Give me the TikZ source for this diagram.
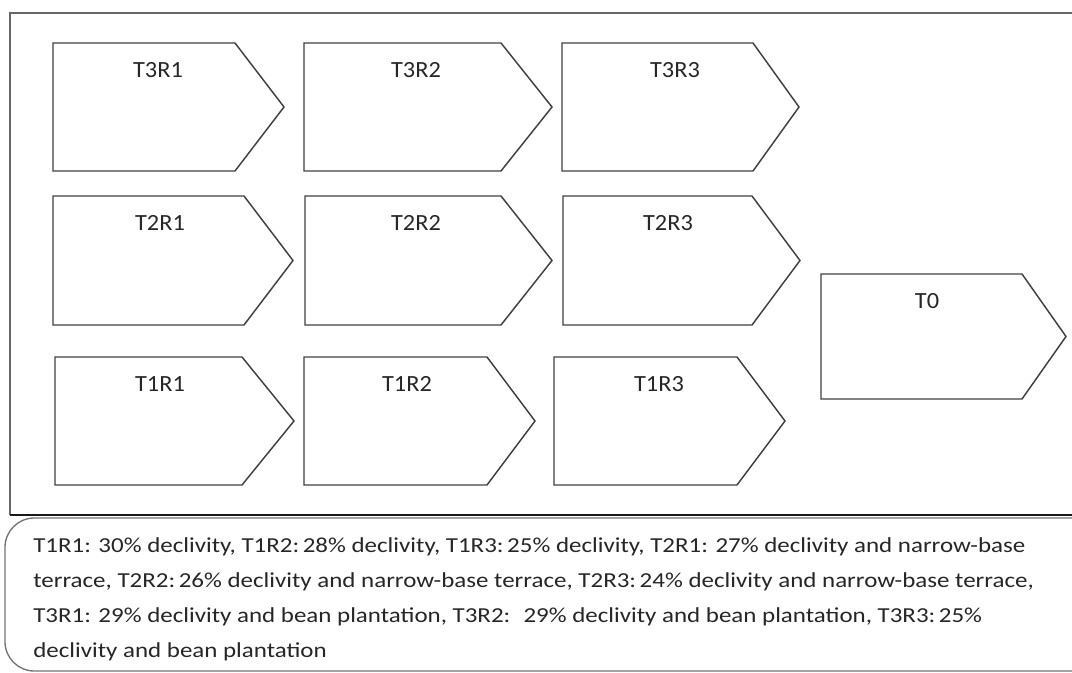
\documentclass[tikz,border=0pt]{standalone}
\usepackage{fontspec}
\setmainfont{Carlito}
\newfontfamily\descfont[FakeStretch=1.17]{Carlito}
\newfontfamily\lblfont[FakeStretch=1.05]{Carlito}
\begin{document}
\begin{tikzpicture}[x=0.75pt,y=-0.75pt,
  tag/.style={draw=black!75,line width=1.1pt,line join=miter},
  lbl/.style={font=\lblfont\fontsize{17.4}{19}\selectfont,text=black!85,inner sep=0pt},
  frame/.style={draw=black!60,line width=1.4pt},
  desc/.style={font=\descfont\fontsize{16}{26.25}\selectfont,text=black!85,align=left,inner sep=0pt,anchor=north west}]
\useasboundingbox (0,0) rectangle (1072,673);
% outer frame
\draw[frame] (1072,13) -- (10,13) -- (10,515);
\draw[draw=black!90,line width=1.2pt] (10,515) -- (1072,515);
% description box
\draw[draw=black!55,line width=1pt,rounded corners=22pt] (1072,518) -- (5,518) -- (5,671) -- (1072,671);
% tags: left, body end, tip, top, bottom, name, label x, label
\newcommand{\tagshape}[8]{%
  \draw[tag] (#1,#4) -- (#2,#4) -- (#3,{(#4+#5)/2}) -- (#2,#5) -- (#1,#5) -- cycle;
  \node[lbl] (#6) at (#7,{#4+27}) {#8};}
\tagshape{53}{235}{284}{43}{171}{t3r1}{158}{T3R1}
\tagshape{304}{501}{552}{43}{171}{t3r2}{416}{T3R2}
\tagshape{562}{753}{799}{43}{171}{t3r3}{675}{T3R3}
\tagshape{53}{244}{293}{196}{325}{t2r1}{160}{T2R1}
\tagshape{305}{501}{552}{196}{325}{t2r2}{416}{T2R2}
\tagshape{563}{752}{800}{196}{325}{t2r3}{668}{T2R3}
\tagshape{55}{242}{294}{357}{485}{t1r1}{160}{T1R1}
\tagshape{304}{487}{535}{357}{485}{t1r2}{407}{T1R2}
\tagshape{554}{737}{785}{357}{485}{t1r3}{659}{T1R3}
\tagshape{821}{1022}{1066}{274}{399}{t0}{927}{T0}
\node[desc] (desc) at (33,537) {T1R1: 30\% declivity, T1R2:\,28\% declivity, T1R3:\,25\% declivity, T2R1: 27\% declivity and narrow-base\\
terrace, T2R2:\,26\% declivity and narrow-base terrace, T2R3:\,24\% declivity and narrow-base terrace,\\
T3R1: 29\% declivity and bean plantation, T3R2: \ 29\% declivity and bean plantation, T3R3:\,25\%\\
declivity and bean plantation};
\end{tikzpicture}
\end{document}
